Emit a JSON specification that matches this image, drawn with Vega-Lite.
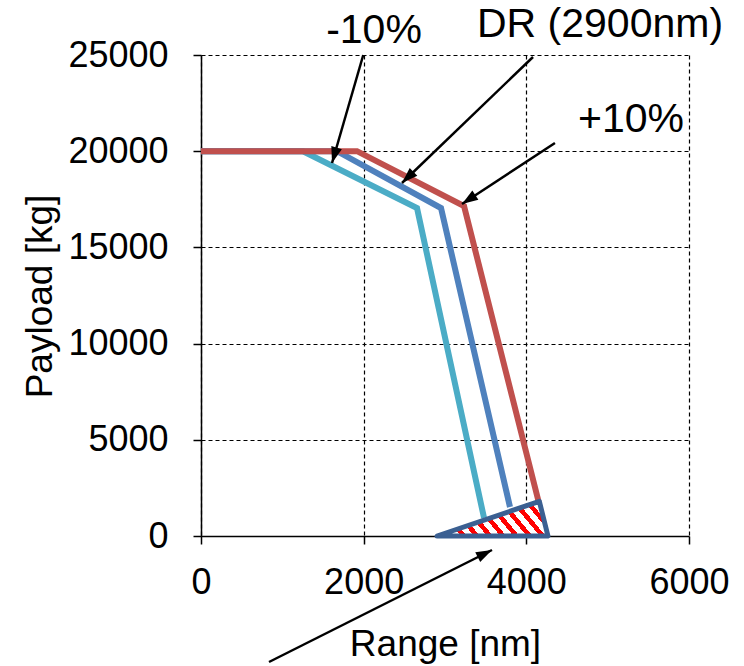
{
  "$schema": "https://vega.github.io/schema/vega-lite/v6.json",
  "width": 488,
  "height": 481,
  "autosize": {"type": "none"},
  "padding": {"left": 201, "top": 55, "right": 55, "bottom": 130},
  "background": "white",
  "config": {"font": "Liberation Sans", "view": {"stroke": null}},
  "datasets": {
    "curves": [
      {"series": "-10%", "x": 0, "y": 20000},
      {"series": "-10%", "x": 1254, "y": 20000},
      {"series": "-10%", "x": 2656, "y": 17048},
      {"series": "-10%", "x": 3480, "y": 936},
      {"series": "DR", "x": 0, "y": 20000},
      {"series": "DR", "x": 1672, "y": 20000},
      {"series": "DR", "x": 2951, "y": 17048},
      {"series": "DR", "x": 3799, "y": 1507},
      {"series": "+10%", "x": 0, "y": 20000},
      {"series": "+10%", "x": 1918, "y": 20000},
      {"series": "+10%", "x": 3234, "y": 17152},
      {"series": "+10%", "x": 4150, "y": 1800}
    ],
    "zone": [
      {"x": 2902, "y": 0},
      {"x": 4160, "y": 1800},
      {"x": 4266, "y": 0}
    ],
    "arrows": [
      {"name": "a1", "x": 1611, "y": 19387, "xs": 1995, "ys": 25000},
      {"name": "a2", "x": 2471, "y": 18347, "xs": 4082, "ys": 24896},
      {"name": "a3", "x": 3209, "y": 17256, "xs": 4352, "ys": 20426},
      {"name": "a4", "x": 3578, "y": -728, "xs": 836, "ys": -6549}
    ],
    "labels": [
      {"label": "-10%", "x": 2127, "y": 25624},
      {"label": "DR (2900nm)", "x": 4906, "y": 25950},
      {"label": "+10%", "x": 5287, "y": 20998}
    ]
  },
  "encoding": {
    "x": {
      "field": "x",
      "type": "quantitative",
      "scale": {"domain": [0, 6000], "nice": false, "zero": false},
      "axis": {
        "title": "Range [nm]",
        "values": [0, 2000, 4000, 6000],
        "format": "d",
        "grid": true,
        "gridDash": [4, 3],
        "gridColor": "black",
        "gridWidth": 1.2,
        "gridOpacity": 1,
        "domainColor": "black",
        "domainWidth": 1.5,
        "tickColor": "black",
        "tickWidth": 1.5,
        "tickSize": 8,
        "labelFontSize": 36,
        "labelColor": "black",
        "labelPadding": 21,
        "labelFlush": false,
        "labelOverlap": false,
        "titleFontSize": 37,
        "titleFontWeight": "normal",
        "titleColor": "black",
        "titleBaseline": "alphabetic",
        "titleY": 119
      }
    },
    "y": {
      "field": "y",
      "type": "quantitative",
      "scale": {"domain": [0, 25000], "nice": false, "zero": true},
      "axis": {
        "title": "Payload [kg]",
        "values": [0, 5000, 10000, 15000, 20000, 25000],
        "format": "d",
        "grid": true,
        "gridDash": [4, 3],
        "gridColor": "black",
        "gridWidth": 1.2,
        "gridOpacity": 1,
        "domainColor": "black",
        "domainWidth": 1.5,
        "tickColor": "black",
        "tickWidth": 1.5,
        "tickSize": 8,
        "labelFontSize": 36,
        "labelColor": "black",
        "labelPadding": 25,
        "labelFlush": false,
        "labelOverlap": false,
        "titleFontSize": 37,
        "titleFontWeight": "normal",
        "titleColor": "black",
        "titleBaseline": "alphabetic",
        "titleAlign": "center",
        "titleAngle": -90,
        "titleX": -150,
        "titleY": 241
      }
    }
  },
  "layer": [
    {
      "data": {"name": "curves"},
      "mark": {"type": "line", "strokeWidth": 6, "strokeJoin": "miter", "strokeCap": "butt"},
      "encoding": {
        "color": {
          "field": "series",
          "type": "nominal",
          "scale": {"domain": ["-10%", "DR", "+10%"], "range": ["#4BACC6", "#4F81BD", "#C0504D"]},
          "legend": null
        },
        "order": {"field": "x", "type": "quantitative"}
      }
    },
    {
      "data": {"name": "zone"},
      "mark": {
        "type": "area",
        "stroke": "#3B6092",
        "strokeWidth": 5,
        "strokeJoin": "round",
        "fill": {
          "gradient": "linear",
          "x1": 0, "y1": 0.63, "x2": 1, "y2": 0.37,
          "stops": [
            {"offset": 0, "color": "#FF0000"}, {"offset": 0.05, "color": "#FF0000"}, {"offset": 0.05, "color": "#FFFFFF"}, {"offset": 0.1111, "color": "#FFFFFF"},
            {"offset": 0.1111, "color": "#FF0000"}, {"offset": 0.1611, "color": "#FF0000"}, {"offset": 0.1611, "color": "#FFFFFF"}, {"offset": 0.2222, "color": "#FFFFFF"},
            {"offset": 0.2222, "color": "#FF0000"}, {"offset": 0.2722, "color": "#FF0000"}, {"offset": 0.2722, "color": "#FFFFFF"}, {"offset": 0.3333, "color": "#FFFFFF"},
            {"offset": 0.3333, "color": "#FF0000"}, {"offset": 0.3833, "color": "#FF0000"}, {"offset": 0.3833, "color": "#FFFFFF"}, {"offset": 0.4444, "color": "#FFFFFF"},
            {"offset": 0.4444, "color": "#FF0000"}, {"offset": 0.4944, "color": "#FF0000"}, {"offset": 0.4944, "color": "#FFFFFF"}, {"offset": 0.5556, "color": "#FFFFFF"},
            {"offset": 0.5556, "color": "#FF0000"}, {"offset": 0.6056, "color": "#FF0000"}, {"offset": 0.6056, "color": "#FFFFFF"}, {"offset": 0.6667, "color": "#FFFFFF"},
            {"offset": 0.6667, "color": "#FF0000"}, {"offset": 0.7167, "color": "#FF0000"}, {"offset": 0.7167, "color": "#FFFFFF"}, {"offset": 0.7778, "color": "#FFFFFF"},
            {"offset": 0.7778, "color": "#FF0000"}, {"offset": 0.8278, "color": "#FF0000"}, {"offset": 0.8278, "color": "#FFFFFF"}, {"offset": 0.8889, "color": "#FFFFFF"},
            {"offset": 0.8889, "color": "#FF0000"}, {"offset": 0.9389, "color": "#FF0000"}, {"offset": 0.9389, "color": "#FFFFFF"}, {"offset": 1, "color": "#FFFFFF"}
          ]
        }
      },
      "encoding": {}
    },
    {
      "data": {"name": "arrows"},
      "mark": {"type": "rule", "color": "black", "strokeWidth": 2.5},
      "encoding": {
        "x2": {"field": "xs"},
        "y2": {"field": "ys"}
      }
    },
    {
      "data": {"name": "arrows"},
      "transform": [{"filter": "datum.name === 'a1'"}],
      "mark": {"type": "point", "shape": "M0,0 L-0.55,1.6 L0.55,1.6 Z", "filled": true, "color": "black", "opacity": 1, "size": 400, "angle": 196.6},
      "encoding": {}
    },
    {
      "data": {"name": "arrows"},
      "transform": [{"filter": "datum.name === 'a2'"}],
      "mark": {"type": "point", "shape": "M0,0 L-0.55,1.6 L0.55,1.6 Z", "filled": true, "color": "black", "opacity": 1, "size": 400, "angle": 226.1},
      "encoding": {}
    },
    {
      "data": {"name": "arrows"},
      "transform": [{"filter": "datum.name === 'a3'"}],
      "mark": {"type": "point", "shape": "M0,0 L-0.55,1.6 L0.55,1.6 Z", "filled": true, "color": "black", "opacity": 1, "size": 400, "angle": 236.7},
      "encoding": {}
    },
    {
      "data": {"name": "arrows"},
      "transform": [{"filter": "datum.name === 'a4'"}],
      "mark": {"type": "point", "shape": "M0,0 L-0.55,1.6 L0.55,1.6 Z", "filled": true, "color": "black", "opacity": 1, "size": 400, "angle": 63.3},
      "encoding": {}
    },
    {
      "data": {"name": "labels"},
      "mark": {"type": "text", "fontSize": 41, "align": "center", "baseline": "alphabetic", "color": "black"},
      "encoding": {
        "text": {"field": "label", "type": "nominal"}
      }
    }
  ]
}
